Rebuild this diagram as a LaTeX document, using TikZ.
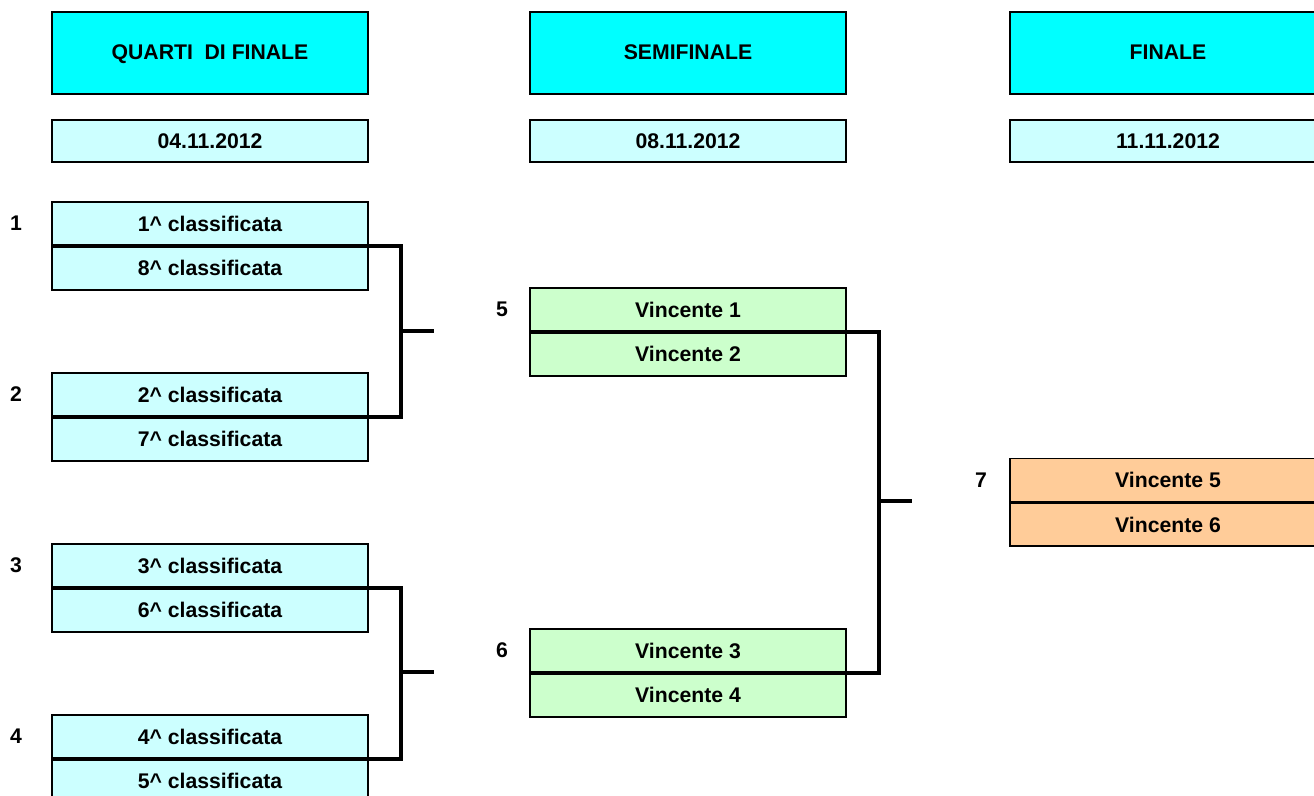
\documentclass[tikz,border=0pt]{standalone}
\usepackage{fontspec}
\setmainfont{Liberation Sans}
\usetikzlibrary{positioning}
\definecolor{headcyan}{HTML}{00FFFF}
\definecolor{palecyan}{HTML}{CCFFFF}
\definecolor{palegreen}{HTML}{CCFFCC}
\definecolor{paleorange}{HTML}{FFCC99}

\begin{document}
\begin{tikzpicture}[x=0.5pt,y=-0.5pt,
    cell/.style={draw,line width=0.85pt,minimum width=158pt,minimum height=21.5pt,
      inner sep=0pt,font=\bfseries\fontsize{10.6}{12}\selectfont},
    head/.style={cell,fill=headcyan,minimum height=41pt,text height=1.2ex,text depth=0pt},
    datebox/.style={cell,fill=palecyan,minimum height=21pt},
    quarter/.style={cell,fill=palecyan},
    semi/.style={cell,fill=palegreen},
    final/.style={cell,fill=paleorange},
    seed/.style={font=\bfseries\fontsize{10.6}{12}\selectfont},
    bracket/.style={line width=1.8pt}]
    \useasboundingbox (0,0) rectangle (1314,796);

    % column titles
    \node[head] (hq) at (210,53) {QUARTI\ \ DI FINALE};
    \node[head] (hs) at (688,53) {SEMIFINALE};
    \node[head] (hf) at (1168,53) {FINALE};
    \node[datebox] (dq) at (210,141) {04.11.2012};
    \node[datebox] (ds) at (688,141) {08.11.2012};
    \node[datebox] (df) at (1168,141) {11.11.2012};

    % quarti
    \node[quarter] (q1a) at (210,223.5) {1\^{} classificata};
    \node[quarter,below=0pt of q1a] (q1b) {8\^{} classificata};
    \node[quarter] (q2a) at (210,394.5) {2\^{} classificata};
    \node[quarter,below=0pt of q2a] (q2b) {7\^{} classificata};
    \node[quarter] (q3a) at (210,565.5) {3\^{} classificata};
    \node[quarter,below=0pt of q3a] (q3b) {6\^{} classificata};
    \node[quarter] (q4a) at (210,736.5) {4\^{} classificata};
    \node[quarter,below=0pt of q4a] (q4b) {5\^{} classificata};

    % semifinali
    \node[semi] (s5a) at (688,309.5) {Vincente 1};
    \node[semi,below=0pt of s5a] (s5b) {Vincente 2};
    \node[semi] (s6a) at (688,650.5) {Vincente 3};
    \node[semi,below=0pt of s6a] (s6b) {Vincente 4};

    % finale
    \node[final] (f7a) at (1168,480) {Vincente 5};
    \node[final,below=0pt of f7a] (f7b) {Vincente 6};

    % match numbers
    \node[seed] (n1) at (16,223.5) {1};
    \node[seed] (n2) at (16,394.5) {2};
    \node[seed] (n3) at (16,565.5) {3};
    \node[seed] (n4) at (16,736.5) {4};
    \node[seed] (n5) at (502,309.5) {5};
    \node[seed] (n6) at (502,650.5) {6};
    \node[seed] (n7) at (981,480) {7};

    % brackets
    \coordinate (j1) at (401,331);
    \coordinate (j2) at (401,672);
    \coordinate (j3) at (879,501);
    \coordinate (e1) at (434,331);
    \coordinate (e2) at (434,672);
    \coordinate (e3) at (912,501);
    \draw[bracket] (q1a.south east) -| (j1) |- (q2a.south east);
    \draw[bracket] (j1) -- (e1);
    \draw[bracket] (q3a.south east) -| (j2) |- (q4a.south east);
    \draw[bracket] (j2) -- (e2);
    \draw[bracket] (s5a.south east) -| (j3) |- (s6a.south east);
    \draw[bracket] (j3) -- (e3);
\end{tikzpicture}
\end{document}
